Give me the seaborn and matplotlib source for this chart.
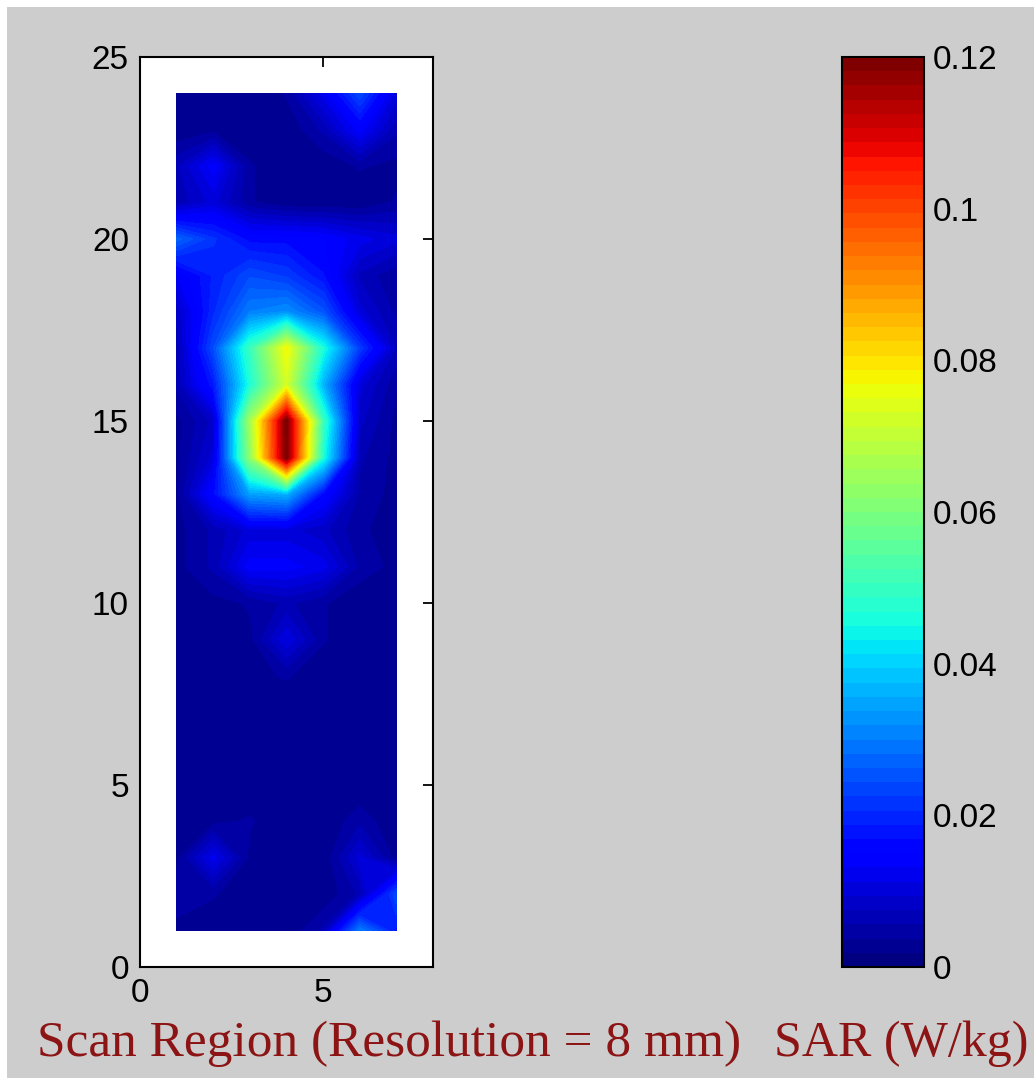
import numpy as np
import matplotlib
matplotlib.use("Agg")
import matplotlib.pyplot as plt
import seaborn as sns
from matplotlib.colors import Normalize
from matplotlib.cm import ScalarMappable
from matplotlib.patches import Rectangle

# Scan grid (probe positions)
x_pos = [1, 2, 3, 4, 5, 6, 7]
y_pos = list(range(1, 25))

# SAR (W/kg) per probe position, rows listed from y = 24 (top) down to y = 1
sar_rows = [
    [0.002, 0.002, 0.002, 0.004, 0.012, 0.024, 0.010],  # 24
    [0.002, 0.003, 0.002, 0.002, 0.006, 0.014, 0.006],  # 23
    [0.007, 0.014, 0.004, 0.002, 0.002, 0.004, 0.003],  # 22
    [0.006, 0.010, 0.004, 0.002, 0.002, 0.002, 0.004],  # 21
    [0.027, 0.021, 0.016, 0.016, 0.015, 0.012, 0.010],  # 20
    [0.013, 0.019, 0.024, 0.022, 0.017, 0.007, 0.004],  # 19
    [0.008, 0.020, 0.030, 0.032, 0.025, 0.010, 0.005],  # 18
    [0.006, 0.024, 0.050, 0.077, 0.046, 0.022, 0.007],  # 17
    [0.006, 0.018, 0.046, 0.072, 0.036, 0.010, 0.004],  # 16
    [0.003, 0.008, 0.065, 0.120, 0.050, 0.008, 0.003],  # 15
    [0.003, 0.010, 0.062, 0.120, 0.046, 0.006, 0.003],  # 14
    [0.003, 0.016, 0.034, 0.036, 0.016, 0.005, 0.003],  # 13
    [0.003, 0.006, 0.010, 0.010, 0.008, 0.004, 0.003],  # 12
    [0.003, 0.006, 0.014, 0.014, 0.012, 0.005, 0.003],  # 11
    [0.002, 0.003, 0.004, 0.006, 0.004, 0.002, 0.002],  # 10
    [0.002, 0.002, 0.003, 0.011, 0.004, 0.002, 0.002],  # 9
    [0.002, 0.002, 0.003, 0.004, 0.002, 0.002, 0.002],  # 8
    [0.002, 0.002, 0.002, 0.002, 0.002, 0.002, 0.002],  # 7
    [0.002, 0.002, 0.002, 0.002, 0.002, 0.002, 0.002],  # 6
    [0.002, 0.002, 0.002, 0.002, 0.002, 0.002, 0.002],  # 5
    [0.002, 0.003, 0.004, 0.002, 0.002, 0.005, 0.002],  # 4
    [0.003, 0.012, 0.003, 0.002, 0.002, 0.010, 0.003],  # 3
    [0.005, 0.004, 0.002, 0.002, 0.002, 0.006, 0.024],  # 2
    [0.003, 0.002, 0.002, 0.002, 0.006, 0.030, 0.018],  # 1
]

x_ticks = [0, 5]
y_ticks = [0, 5, 10, 15, 20, 25]
cbar_ticks = [0, 0.02, 0.04, 0.06, 0.08, 0.10, 0.12]
cbar_tick_labels = ["0", "0.02", "0.04", "0.06", "0.08", "0.1", "0.12"]
xlabel_text = "Scan Region (Resolution = 8 mm)"
cbar_label_text = "SAR (W/kg)"

sns.set_style("white")
plt.rcParams["font.family"] = ["Liberation Sans", "DejaVu Sans"]

W, H = 1034, 1078
fig = plt.figure(figsize=(W / 100, H / 100), dpi=100, facecolor="white")
fig.add_artist(Rectangle((7 / W, 0), 1, 1 - 7 / H, transform=fig.transFigure,
                         facecolor="#cdcdcd", edgecolor="none", zorder=-10))

jet64 = matplotlib.colormaps["jet"].resampled(64)
norm = Normalize(0, 0.12)

# Scan region map
ax = fig.add_axes([140 / W, 111 / H, 293 / W, 910 / H])
ax.set_facecolor("white")
X, Y = np.meshgrid(x_pos, y_pos)
Z = np.array(sar_rows)[::-1]
levels = np.linspace(0, 0.12, 65)
cs = ax.contourf(X, Y, Z, levels=levels, cmap=jet64, norm=norm, extend="both")
cs.set_edgecolor("face")
cs.set_linewidth(0.4)

ax.set_xlim(0, 8)
ax.set_ylim(0, 25)
ax.set_xticks(x_ticks)
ax.set_yticks(y_ticks)
ax.tick_params(direction="in", length=7, width=1.3, top=True, right=True,
               labelsize=24, pad=8, colors="black")
for s in ax.spines.values():
    s.set_color("black")
    s.set_linewidth(1.5)

# Colour scale
cax = fig.add_axes([842 / W, 111 / H, 82 / W, 910 / H])
sm = ScalarMappable(norm=norm, cmap=jet64)
cb = fig.colorbar(sm, cax=cax, ticks=cbar_ticks)
cb.ax.set_yticklabels(cbar_tick_labels)
cax.tick_params(direction="in", length=6, width=1.2, left=True, right=True,
                labelsize=24, pad=6, colors="black")
cb.outline.set_linewidth(1.5)
cb.outline.set_edgecolor("black")

label_color = "#8c1414"
fig.text(37 / W, 22 / H, xlabel_text, family=["Liberation Serif"], fontsize=37,
         color=label_color, va="baseline", ha="left")
fig.text(774 / W, 22 / H, cbar_label_text, family=["Liberation Serif"], fontsize=36,
         color=label_color, va="baseline", ha="left")

fig.savefig("out.png", dpi=100, facecolor=fig.get_facecolor())
